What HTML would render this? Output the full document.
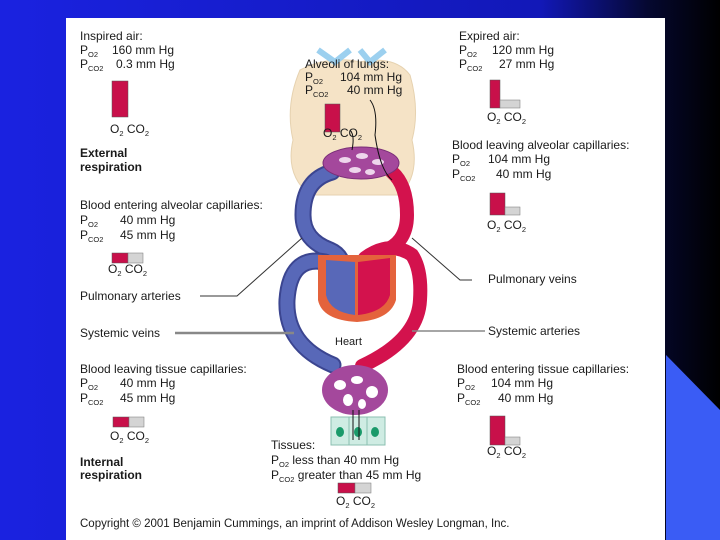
<!DOCTYPE html>
<html><head><meta charset="utf-8"><style>
html,body{margin:0;padding:0;width:720px;height:540px;overflow:hidden;background:#000}
svg{display:block}
text{font-family:"Liberation Sans",sans-serif;font-size:12px;fill:#1a1a1a}
.b{font-weight:bold}
.s{font-size:7.5px}
</style></head><body>
<svg width="720" height="540" viewBox="0 0 720 540" xmlns="http://www.w3.org/2000/svg">
<defs>
<linearGradient id="bg" x1="0" y1="0" x2="1" y2="0">
<stop offset="0" stop-color="#1a22e0"/><stop offset="0.75" stop-color="#1218b8"/><stop offset="0.9" stop-color="#050830"/><stop offset="1" stop-color="#000"/>
</linearGradient>
</defs>
<rect width="720" height="540" fill="url(#bg)"/>
<polygon points="666,355 720,410 720,540 666,540" fill="#3a5cf5"/>
<rect x="66" y="18" width="599" height="522" fill="#fff"/>

<path d="M300,70 Q330,55 360,62 Q395,55 410,75 Q420,110 412,140 Q420,175 400,195 L310,195 Q285,175 293,140 Q285,105 300,70Z" fill="#f5e3c6" stroke="#e6d2b0"/>
<path d="M318,50 L335,62 L350,50 M360,50 L370,62 L385,50" stroke="#9cd0ef" stroke-width="6" fill="none"/>

<g fill="none" stroke-linecap="round">
<path d="M332,172 Q303,180 303,215 Q303,240 330,250 Q344,256 344,275" stroke="#3b4590" stroke-width="17"/>
<path d="M332,172 Q303,180 303,215 Q303,240 330,250 Q344,256 344,275" stroke="#5868b8" stroke-width="13"/>
<path d="M325,262 Q290,255 287,300 Q285,345 333,365" stroke="#3b4590" stroke-width="17"/>
<path d="M325,262 Q290,255 287,300 Q285,345 333,365" stroke="#5868b8" stroke-width="13"/>
<path d="M392,172 Q407,185 407,215 Q407,245 380,252 Q366,258 367,275" stroke="#d3124d" stroke-width="14"/>
<path d="M365,258 Q390,240 412,255 Q422,270 420,300 Q418,340 362,366" stroke="#d3124d" stroke-width="14"/>
</g>
<path d="M318,255 L396,255 L396,300 Q390,320 357,322 Q322,320 318,300Z" fill="#e4633c"/>
<path d="M326,260 L355,262 L355,315 Q330,312 326,295Z" fill="#5868b8"/>
<path d="M358,262 L390,258 L390,295 Q385,312 358,315Z" fill="#d3124d"/>

<ellipse cx="361" cy="163" rx="38" ry="16" fill="#a4489c" stroke="#7a2f78"/>
<g fill="#eed6ec"><ellipse cx="345" cy="160" rx="6" ry="3"/><ellipse cx="362" cy="156" rx="6" ry="3"/><ellipse cx="378" cy="162" rx="6" ry="3"/><ellipse cx="355" cy="170" rx="6" ry="3"/><ellipse cx="370" cy="172" rx="5" ry="3"/></g>
<ellipse cx="355" cy="390" rx="33" ry="25" fill="#a4489c"/>
<g fill="#fff"><ellipse cx="340" cy="385" rx="6" ry="5"/><ellipse cx="357" cy="380" rx="6" ry="4"/><ellipse cx="372" cy="392" rx="6" ry="6"/><ellipse cx="348" cy="400" rx="5" ry="6"/><ellipse cx="362" cy="404" rx="4" ry="5"/></g>
<rect x="331" y="417" width="54" height="28" fill="#cfece3" stroke="#8bbfb0"/>
<line x1="349" y1="417" x2="349" y2="445" stroke="#8bbfb0"/><line x1="367" y1="417" x2="367" y2="445" stroke="#8bbfb0"/>
<g fill="#1a9a6a"><ellipse cx="340" cy="432" rx="4" ry="5"/><ellipse cx="358" cy="432" rx="4" ry="5"/><ellipse cx="375" cy="432" rx="4" ry="5"/></g>
<g stroke="#111" stroke-width="1"><line x1="353" y1="410" x2="353" y2="440"/><line x1="359" y1="410" x2="359" y2="440"/></g>
<path d="M352,150 Q355,135 350,130 M370,100 Q378,110 375,135 Q380,170 392,180" stroke="#111" fill="none"/>

<g stroke="#333" fill="none" stroke-width="1">
<polyline points="200,296 237,296 302,238"/>
<polyline points="472,280 460,280 412,238"/>
</g>
<line x1="175" y1="333" x2="294" y2="333" stroke="#888" stroke-width="2.5"/>
<line x1="412" y1="331" x2="485" y2="331" stroke="#888" stroke-width="1.5"/>

<g fill="#c8104a" stroke="#555" stroke-width="0.5">
<rect x="112" y="81" width="16" height="36"/>
<rect x="490" y="80" width="10" height="28"/>
<rect x="490" y="193" width="15" height="22"/>
<rect x="325" y="104" width="15" height="28"/>
<rect x="112" y="253" width="16" height="10"/>
<rect x="113" y="417" width="16" height="10"/>
<rect x="490" y="416" width="15" height="29"/>
<rect x="338" y="483" width="17" height="10"/>
</g>
<g fill="#d4d4d4" stroke="#777" stroke-width="0.5">
<rect x="500" y="100" width="20" height="8"/>
<rect x="505" y="207" width="15" height="8"/>
<rect x="128" y="253" width="15" height="10"/>
<rect x="129" y="417" width="15" height="10"/>
<rect x="505" y="437" width="15" height="8"/>
<rect x="355" y="483" width="16" height="10"/>
</g>

<text x="80" y="40">Inspired air:</text>
<text x="80" y="54">P<tspan class="s" dy="3">O2</tspan><tspan dy="-3" x="112">160 mm Hg</tspan></text>
<text x="80" y="68">P<tspan class="s" dy="3">CO2</tspan><tspan dy="-3" x="116">0.3 mm Hg</tspan></text>
<text x="110" y="133">O<tspan class="s" dy="3">2</tspan><tspan dy="-3"> CO</tspan><tspan class="s" dy="3">2</tspan></text>
<text x="80" y="157" class="b">External</text>
<text x="80" y="171" class="b">respiration</text>

<text x="459" y="40">Expired air:</text>
<text x="459" y="54">P<tspan class="s" dy="3">O2</tspan><tspan dy="-3" x="492">120 mm Hg</tspan></text>
<text x="459" y="68">P<tspan class="s" dy="3">CO2</tspan><tspan dy="-3" x="499">27 mm Hg</tspan></text>
<text x="487" y="121">O<tspan class="s" dy="3">2</tspan><tspan dy="-3"> CO</tspan><tspan class="s" dy="3">2</tspan></text>

<text x="305" y="68">Alveoli of lungs:</text>
<text x="305" y="81">P<tspan class="s" dy="3">O2</tspan><tspan dy="-3" x="340">104 mm Hg</tspan></text>
<text x="305" y="94">P<tspan class="s" dy="3">CO2</tspan><tspan dy="-3" x="347">40 mm Hg</tspan></text>
<text x="323" y="137">O<tspan class="s" dy="3">2</tspan><tspan dy="-3"> CO</tspan><tspan class="s" dy="3">2</tspan></text>

<text x="452" y="149">Blood leaving alveolar capillaries:</text>
<text x="452" y="163">P<tspan class="s" dy="3">O2</tspan><tspan dy="-3" x="488">104 mm Hg</tspan></text>
<text x="452" y="178">P<tspan class="s" dy="3">CO2</tspan><tspan dy="-3" x="496">40 mm Hg</tspan></text>
<text x="487" y="229">O<tspan class="s" dy="3">2</tspan><tspan dy="-3"> CO</tspan><tspan class="s" dy="3">2</tspan></text>

<text x="80" y="209">Blood entering alveolar capillaries:</text>
<text x="80" y="224">P<tspan class="s" dy="3">O2</tspan><tspan dy="-3" x="120">40 mm Hg</tspan></text>
<text x="80" y="239">P<tspan class="s" dy="3">CO2</tspan><tspan dy="-3" x="120">45 mm Hg</tspan></text>
<text x="108" y="273">O<tspan class="s" dy="3">2</tspan><tspan dy="-3"> CO</tspan><tspan class="s" dy="3">2</tspan></text>
<text x="80" y="300">Pulmonary arteries</text>
<text x="80" y="337">Systemic veins</text>
<text x="488" y="283">Pulmonary veins</text>
<text x="488" y="335">Systemic arteries</text>
<text x="335" y="345" style="font-size:11px">Heart</text>

<text x="80" y="373">Blood leaving tissue capillaries:</text>
<text x="80" y="387">P<tspan class="s" dy="3">O2</tspan><tspan dy="-3" x="120">40 mm Hg</tspan></text>
<text x="80" y="402">P<tspan class="s" dy="3">CO2</tspan><tspan dy="-3" x="120">45 mm Hg</tspan></text>
<text x="110" y="440">O<tspan class="s" dy="3">2</tspan><tspan dy="-3"> CO</tspan><tspan class="s" dy="3">2</tspan></text>
<text x="80" y="466" class="b">Internal</text>
<text x="80" y="479" class="b">respiration</text>

<text x="457" y="373">Blood entering tissue capillaries:</text>
<text x="457" y="387">P<tspan class="s" dy="3">O2</tspan><tspan dy="-3" x="491">104 mm Hg</tspan></text>
<text x="457" y="402">P<tspan class="s" dy="3">CO2</tspan><tspan dy="-3" x="498">40 mm Hg</tspan></text>
<text x="487" y="455">O<tspan class="s" dy="3">2</tspan><tspan dy="-3"> CO</tspan><tspan class="s" dy="3">2</tspan></text>

<text x="271" y="449">Tissues:</text>
<text x="271" y="464">P<tspan class="s" dy="3">O2</tspan><tspan dy="-3"> less than 40 mm Hg</tspan></text>
<text x="271" y="479">P<tspan class="s" dy="3">CO2</tspan><tspan dy="-3"> greater than 45 mm Hg</tspan></text>
<text x="336" y="505">O<tspan class="s" dy="3">2</tspan><tspan dy="-3"> CO</tspan><tspan class="s" dy="3">2</tspan></text>

<text x="80" y="527" style="font-size:11.5px">Copyright © 2001 Benjamin Cummings, an imprint of Addison Wesley Longman, Inc.</text>
</svg>
</body></html>
